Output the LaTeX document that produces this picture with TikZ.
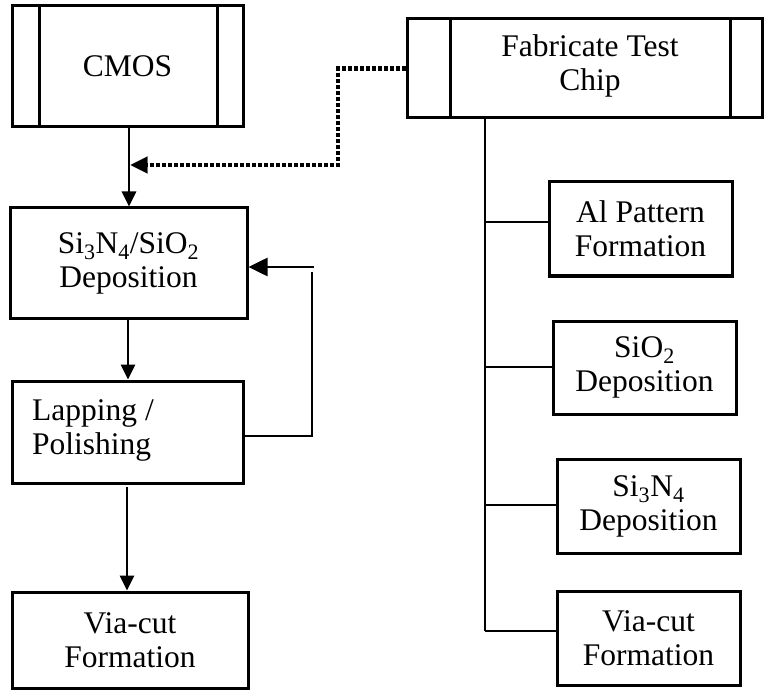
\documentclass[tikz,border=0pt]{standalone}
\usepackage{fontspec}
\setmainfont{Liberation Serif}
\usetikzlibrary{arrows.meta}
\begin{document}
\begin{tikzpicture}[x=1pt,y=-1pt,
  box/.style={draw,line width=3pt,rectangle,inner sep=0pt,align=center,
    font=\fontsize{31.5}{34}\selectfont},
  conn/.style={line width=2.6pt},
  arr/.style={line width=2.6pt,-{Triangle[length=15pt,width=14pt]}},
  bigarr/.style={line width=2.6pt,-{Triangle[length=19pt,width=18pt]}},
  dots/.style={line width=4.5pt,dash pattern=on 4pt off 2pt},
]
\useasboundingbox (0,0) rectangle (764,690);
% left column
\node[box,minimum width=231pt,minimum height=121pt] (cmos) at (127.5,66.5) {CMOS};
\draw[line width=3pt] ([xshift=29pt]cmos.north west) -- ([xshift=29pt]cmos.south west);
\draw[line width=3pt] ([xshift=-27pt]cmos.north east) -- ([xshift=-27pt]cmos.south east);
\node[box,minimum width=237pt,minimum height=110pt] (dep) at (128.5,263) {Si\textsubscript{3}N\textsubscript{4}/SiO\textsubscript{2}\\Deposition};
\node[box,minimum width=231pt,minimum height=102pt] (lap) at (127.5,432) {};
\node[font=\fontsize{31.5}{34}\selectfont,align=left,anchor=west,inner sep=0pt] (laptxt) at (32,430) {Lapping /\\Polishing};
\node[box,minimum width=236pt,minimum height=96pt] (via1) at (130,640) {Via-cut\\Formation};
% right column
\node[box,minimum width=355pt,minimum height=99pt] (fab) at (584.5,68.5) {};
\draw[line width=3pt] ([xshift=45pt]fab.north west) -- ([xshift=45pt]fab.south west);
\draw[line width=3pt] ([xshift=-33pt]fab.north east) -- ([xshift=-33pt]fab.south east);
\node[font=\fontsize{31.5}{34}\selectfont,align=center,inner sep=0pt] (fabtxt) at (590,66) {Fabricate Test\\Chip};
\node[box,minimum width=183pt,minimum height=94pt] (al) at (640.5,229) {Al Pattern\\Formation};
\node[box,minimum width=183pt,minimum height=93pt] (sio) at (644.5,367.5) {SiO\textsubscript{2}\\Deposition};
\node[box,minimum width=183pt,minimum height=94pt] (sin) at (648.5,506) {Si\textsubscript{3}N\textsubscript{4}\\Deposition};
\node[box,minimum width=183pt,minimum height=94pt] (via2) at (648.5,638) {Via-cut\\Formation};
% connectors left
\coordinate (c1) at (129,127);
\draw[arr] (c1) -- (c1 |- dep.north);
\coordinate (c2) at (128,318);
\draw[arr] (c2) -- (c2 |- lap.north);
\coordinate (c3) at (127,487);
\draw[arr] (c3) -- (c3 |- via1.north);
\coordinate (fb1) at (243,436);
\coordinate (fb2) at (312,436);
\coordinate (fb3) at (312,272);
\coordinate (fb4) at (313.5,267);
\draw[conn] (fb1) -- (fb2) -- (fb3);
\draw[bigarr] (fb4) -- (dep.east |- fb4);
% dotted
\coordinate (d1) at (338,68.5);
\coordinate (d2) at (338,165);
\coordinate (d3) at (140,165);
\coordinate (d4) at (146,165);
\coordinate (d5) at (130.5,165);
\draw[dots] (fab.west) -- (d1) -- (d2) -- (d3);
\draw[line width=0.1pt,-{Triangle[length=17pt,width=17pt]}] (d4) -- (d5);
% trunk
\coordinate (t0) at (485,118);
\coordinate (t1) at (485,631);
\coordinate (b1) at (485,222);
\coordinate (b2) at (485,367);
\coordinate (b3) at (485,505);
\draw[conn] (t0) -- (t1);
\draw[conn] (b1) -- (al.west |- b1);
\draw[conn] (b2) -- (sio.west |- b2);
\draw[conn] (b3) -- (sin.west |- b3);
\draw[conn] (t1) -- (via2.west |- t1);
\end{tikzpicture}
\end{document}
